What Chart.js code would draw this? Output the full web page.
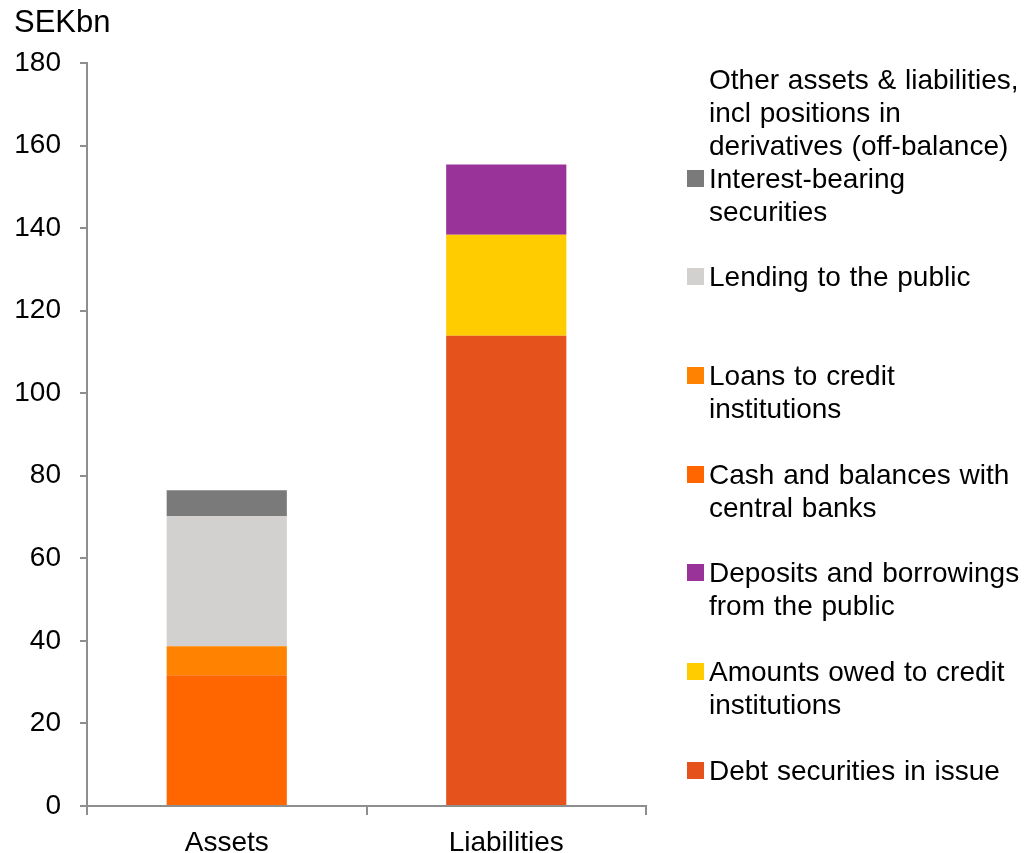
<!DOCTYPE html>
<html>
<head>
<meta charset="utf-8">
<script src="https://cdn.jsdelivr.net/npm/chart.js@4"></script>
<style>
  html, body { margin: 0; padding: 0; background: #fff; }
  #wrap { position: relative; width: 1033px; height: 853px; font-family: 'Liberation Sans', Arial, sans-serif; color: #000; }
  #unit { position: absolute; left: 14px; top: 5px; font-size: 31px; line-height: 33px; }
  #legend { position: absolute; left: 687px; top: 63px; }
  .item { position: relative; height: 98.7px; padding-left: 22px; font-size: 28px; line-height: 33px; word-spacing: 1px; white-space: nowrap; }
  .item .box { position: absolute; left: 0; top: 8px; width: 17px; height: 17px; }
</style>
</head>
<body>
<div id="wrap">
  <canvas id="chart" width="1033" height="853"></canvas>
  <div id="unit">SEKbn</div>
  <div id="legend"></div>
</div>
<script>
const categories = ['Assets', 'Liabilities'];

// stack order, bottom to top
const seriesNames = [
  'Debt securities in issue',
  'Amounts owed to credit\ninstitutions',
  'Deposits and borrowings\nfrom the public',
  'Cash and balances with\ncentral banks',
  'Loans to credit\ninstitutions',
  'Lending to the public',
  'Interest-bearing\nsecurities',
  'Other assets & liabilities,\nincl positions in\nderivatives (off-balance)'
];
const debtSecurities   = [null, 113.9];
const owedToCredit     = [null, 24.5];
const depositsPublic   = [null, 17.0];
const cashCentral      = [31.7, null];
const loansToCredit    = [7.0, null];
const lendingPublic    = [31.5, null];
const interestBearing  = [6.3, null];
const otherItems       = [0, 0];
const seriesValues = [debtSecurities, owedToCredit, depositsPublic, cashCentral,
                      loansToCredit, lendingPublic, interestBearing, otherItems];
const seriesColors = ['#e5521c', '#ffcc00', '#993399', '#ff6600',
                      '#ff8300', '#d2d1cf', '#7a7a7a', '#ffffff'];
const yTicks = [0, 20, 40, 60, 80, 100, 120, 140, 160, 180];

const axisColor = '#8e8e8e';
const font = { family: "'Liberation Sans', Arial, sans-serif", size: 28 };

const datasets = seriesNames.map((name, i) => ({
  label: name,
  data: seriesValues[i],
  backgroundColor: seriesColors[i],
  borderWidth: 0,
  categoryPercentage: 1,
  barPercentage: 0.43
}));

const chart = new Chart(document.getElementById('chart'), {
  type: 'bar',
  data: { labels: categories, datasets: datasets },
  options: {
    responsive: false,
    animation: false,
    layout: { padding: { top: 63, right: 387, bottom: 0, left: 0 } },
    plugins: { legend: { display: false }, tooltip: { enabled: false } },
    scales: {
      x: {
        stacked: true,
        grid: { offset: true, drawOnChartArea: false, drawTicks: true, tickLength: 9, color: axisColor, lineWidth: 2 },
        border: { color: axisColor, width: 2 },
        ticks: { color: '#000', font: font, padding: 11 },
        afterFit: s => { s.height = 47; }
      },
      y: {
        stacked: true,
        min: yTicks[0],
        max: yTicks[yTicks.length - 1],
        afterBuildTicks: s => { s.ticks = yTicks.map(v => ({ value: v })); },
        grid: { drawOnChartArea: false, drawTicks: true, tickLength: 7, color: axisColor, lineWidth: 2 },
        border: { color: axisColor, width: 2 },
        ticks: { color: '#000', font: font, padding: 19 },
        afterFit: s => { s.width = 87; }
      }
    }
  }
});

// legend, top entry first
const legend = document.getElementById('legend');
chart.data.datasets.slice().reverse().forEach(ds => {
  const item = document.createElement('div');
  item.className = 'item';
  const box = document.createElement('span');
  box.className = 'box';
  box.style.background = ds.backgroundColor;
  item.appendChild(box);
  ds.label.split('\n').forEach((line, j) => {
    if (j) item.appendChild(document.createElement('br'));
    item.appendChild(document.createTextNode(line));
  });
  legend.appendChild(item);
});
</script>
</body>
</html>
